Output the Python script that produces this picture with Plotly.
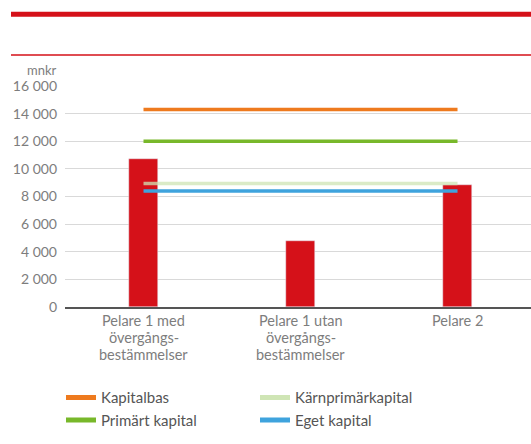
import plotly.graph_objects as go

categories = ["Pelare 1 med<br>övergångs-<br>bestämmelser",
              "Pelare 1 utan<br>övergångs-<br>bestämmelser",
              "Pelare 2"]
bar_values = [10730, 4800, 8850]
kapitalbas = [14300, 14300, 14300]
primart = [12000, 12000, 12000]
karnprimar = [8950, 8950, 8950]
eget = [8400, 8400, 8400]
tick_vals = [0, 2000, 4000, 6000, 8000, 10000, 12000, 14000, 16000]
tick_text = ["0", "2 000", "4 000", "6 000", "8 000", "10 000", "12 000", "14 000", "16 000"]

RED = "#d51119"
ORANGE = "#ee7a1e"
GREEN = "#78b82a"
LGREEN = "#cfe5b5"
BLUE = "#3fa3dd"
GRAY = "#7d7d7d"
FONT = "Lato"

W, H = 531, 444
ML, MR, MT, MB = 65, 0, 86, 136.5
PH = H - MT - MB
PW = W - ML - MR


def py(pix):
    """paper y from pixel y (top origin)"""
    return (H - MB - pix) / PH


def px(pix):
    return (pix - ML) / PW


fig = go.Figure()
fig.add_trace(go.Bar(x=categories, y=bar_values, marker_color=RED, width=0.185,
                     showlegend=False, hoverinfo="y"))

series = [("Kapitalbas", kapitalbas, ORANGE, 1.0),
          ("Kärnprimärkapital", karnprimar, LGREEN, 0.75),
          ("Primärt kapital", primart, GREEN, 1.0),
          ("Eget kapital", eget, BLUE, 1.0)]
for name, vals, col, op in series:
    fig.add_trace(go.Scatter(x=categories, y=vals, mode="lines", name=name,
                             line=dict(color=col, width=3.5), opacity=op,
                             showlegend=False))
for name, vals, col, op in series:
    fig.add_trace(go.Scatter(x=[None], y=[None], mode="lines", name=name,
                             line=dict(color=col, width=5), showlegend=True))

fig.update_layout(
    width=W, height=H,
    margin=dict(l=ML, r=MR, t=MT, b=MB, autoexpand=False),
    plot_bgcolor="white", paper_bgcolor="white",
    font=dict(family=FONT, size=14, color=GRAY),
    bargap=0,
    xaxis=dict(range=[-0.5, 2.468], showgrid=False, showline=True,
               linecolor="#555555", linewidth=1.5, ticks="",
               showticklabels=False, fixedrange=True),
    yaxis=dict(range=[0, 16000], tickvals=tick_vals, ticktext=tick_text,
               showgrid=True, gridcolor="#d9d9d9", gridwidth=1.2,
               zeroline=False, showline=False, ticks="",
               ticklabelstandoff=7, fixedrange=True,
               tickfont=dict(size=14, color=GRAY)),
    legend=dict(orientation="h", x=px(61), xref="paper", y=py(382), yanchor="top",
                xanchor="left", entrywidth=149, entrywidthmode="pixels",
                itemwidth=30, font=dict(size=15, color="#555555"),
                tracegroupgap=0, traceorder="normal"),
)

# decorative red rules at the top
fig.add_shape(type="line", xref="paper", yref="paper", x0=px(11), x1=px(531),
              y0=py(14), y1=py(14), line=dict(color=RED, width=5))
fig.add_shape(type="line", xref="paper", yref="paper", x0=px(11), x1=px(531),
              y0=py(55), y1=py(55), line=dict(color=RED, width=1.5))

# unit label
fig.add_annotation(text="mnkr", xref="paper", yref="paper", x=px(59),
                   y=py(70), xanchor="right", yanchor="middle", showarrow=False,
                   font=dict(size=13, color=GRAY))

# category labels, line by line with tight spacing
for cat in categories:
    for i, line in enumerate(cat.split("<br>")):
        fig.add_annotation(text=line, x=cat, xref="x", yref="paper",
                           y=py(321.5 + 17 * i), xanchor="center", yanchor="middle",
                           showarrow=False, font=dict(size=14.5, color=GRAY))

fig.write_html("out.html", config={"displayModeBar": False},
               post_script="document.body.style.margin='0';document.body.style.padding='0';")
